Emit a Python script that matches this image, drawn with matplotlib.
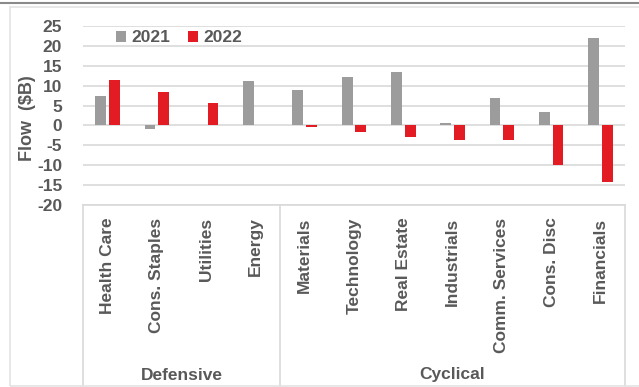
"""Flujos por sector 2021 vs 2022, agrupados en defensivos y cíclicos."""

import matplotlib

matplotlib.use("Agg")

import matplotlib.pyplot as plt
import numpy as np
from matplotlib.lines import Line2D
from matplotlib.patches import Rectangle
from matplotlib.transforms import blended_transform_factory

# datos
sectores = ["Health Care", "Cons. Staples", "Utilities", "Energy",
            "Materials", "Technology", "Real Estate", "Industrials",
            "Comm. Services", "Cons. Disc", "Financials"]
grupos = ["Defensive", "Cyclical"]
tam_grupos = [4, 7]
flujo_2021 = [7.3, -1.0, 0.0, 11.2, 8.9, 12.2, 13.5, 0.6, 6.9, 3.5, 21.9]
flujo_2022 = [11.4, 8.3, 5.6, 0.0, -0.35, -1.7, -2.9, -3.7, -3.7, -9.9, -14.1]
ticks_y = [25, 20, 15, 10, 5, 0, -5, -10, -15, -20]

GRIS = "#9c9c9c"
ROJO = "#e31b23"
TEXTO = "#595959"
LINEA = "#d9d9d9"

plt.rcParams["font.family"] = ["Liberation Sans", "DejaVu Sans"]
plt.rcParams["font.weight"] = "bold"
plt.rcParams["font.size"] = 12
plt.rcParams["axes.unicode_minus"] = False

W, H = 639, 387
fig = plt.figure(figsize=(W / 100, H / 100), dpi=100)

# marco del gráfico
fig.add_artist(Line2D([0, 1], [1 - 3 / H, 1 - 3 / H], color="#8a8a8a", lw=1.5))
fig.add_artist(Rectangle((10 / W, 1 / H), 1.2, 1 - 8 / H, fill=False,
                         ec="#e3e3e3", lw=1.2))

izq, der, arriba, abajo = 83, 625, 26, 205
ax = fig.add_axes([izq / W, 1 - abajo / H, (der - izq) / W, (abajo - arriba) / H])

x = np.arange(len(sectores))
ancho = 0.22
ax.bar(x - 0.14, flujo_2021, ancho, color=GRIS, label="2021", zorder=3)
ax.bar(x + 0.14, flujo_2022, ancho, color=ROJO, label="2022", zorder=3)

ax.set_xlim(-0.5, len(sectores) - 0.5)
ax.set_ylim(-20, 25)
ax.set_yticks(ticks_y)
ax.set_yticklabels([str(t) for t in ticks_y], fontweight="bold")
ax.yaxis.grid(True, color=LINEA, lw=1.2, zorder=0)
ax.set_axisbelow(True)
for s in ax.spines.values():
    s.set_visible(False)
ax.tick_params(axis="y", length=0, pad=15, labelcolor=TEXTO, labelsize=12.5)
ax.tick_params(axis="x", length=0, pad=9, labelcolor=TEXTO, labelsize=12.5)
ax.set_xticks(x)
ax.set_xticklabels(sectores, rotation=90, va="top", ha="center",
                   fontweight="bold")
ax.set_ylabel("Flow  ($B)", color=TEXTO, fontsize=13, fontweight="bold")
ax.yaxis.set_label_coords((36 - izq) / (der - izq), 0.485)

# caja de categorías con dos niveles
alto_ax = abajo - arriba
fondo = -(386 - abajo) / alto_ax
trans = blended_transform_factory(ax.transData, ax.transAxes)
ax.plot([-0.5, len(sectores) - 0.5], [0, 0], transform=trans, color=LINEA,
        lw=1.2, clip_on=False)
bordes = np.concatenate([[0], np.cumsum(tam_grupos)]) - 0.5
for b in bordes:
    ax.plot([b, b], [0, fondo], transform=trans, color=LINEA, lw=1.2,
            clip_on=False)
for g, ini, fin in zip(grupos, bordes[:-1], bordes[1:]):
    ax.text((ini + fin) / 2, -(375 - abajo) / alto_ax, g, transform=trans,
            ha="center", va="center", color=TEXTO, fontsize=12.5,
            fontweight="bold")

ax.legend(loc="center left", bbox_to_anchor=(116 / W, 1 - 38 / H),
          bbox_transform=fig.transFigure, ncol=2, frameon=False,
          handlelength=0.6, handleheight=0.6, handletextpad=0.3,
          columnspacing=1.0, borderpad=0, borderaxespad=0,
          labelcolor=TEXTO, prop={"size": 12.5, "weight": "bold"})

fig.savefig("out.png", dpi=100)
